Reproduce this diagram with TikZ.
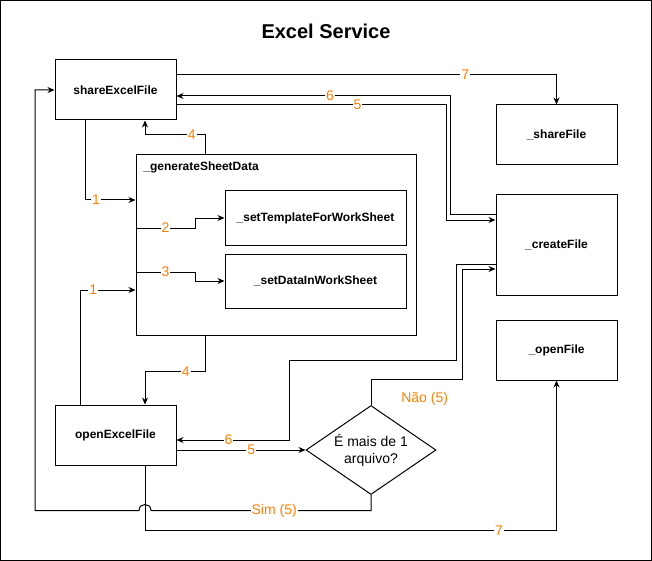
\documentclass[tikz,border=0pt]{standalone}
\usepackage{fontspec}
\setmainfont{Liberation Sans}
\usetikzlibrary{shapes.geometric,calc,positioning,arrows.meta}
\definecolor{steporange}{HTML}{FF8000}

\begin{document}
\begin{tikzpicture}[x=1pt,y=-1pt,line width=1pt,>={Stealth[length=7pt,width=6pt]},
box/.style = {draw, rectangle, inner sep=0pt, font=\fontsize{12}{14}\selectfont\bfseries},
num/.style = {fill=white, inner sep=1pt, text=steporange, font=\fontsize{14}{16}\selectfont},
decision/.style = {draw, diamond, aspect=1.46, inner sep=0pt, align=center, font=\fontsize{14}{17}\selectfont},]
\useasboundingbox (0,0) rectangle (652,561);
\draw (0.5,0.5) rectangle (651.5,560.5);
\node (title) at (326,31)[font=\fontsize{20}{24}\selectfont\bfseries] {Excel Service};
%Boxes
\node (share) at (115.5,90)[box,minimum width=121pt,minimum height=60pt] {shareExcelFile};
\node (shareF) at (556.5,135)[box,minimum width=121pt,minimum height=60pt] {\_shareFile};
\node (gen) at (276,245)[box,minimum width=280pt,minimum height=180pt] {};
\node (genlbl) at ($(gen.north west)+(4,13)$)[anchor=west,font=\fontsize{12}{14}\selectfont\bfseries] {\_generateSheetData};
\node (tmpl) at (315.5,218)[box,minimum width=181pt,minimum height=54pt] {\_setTemplateForWorkSheet};
\node (data) at (315.5,281)[box,minimum width=181pt,minimum height=54pt] {\_setDataInWorkSheet};
\node (create) at (556.5,245)[box,minimum width=121pt,minimum height=100pt] {\_createFile};
\node (openF) at (556.5,350)[box,minimum width=121pt,minimum height=60pt] {\_openFile};
\node (openX) at (115.5,435)[box,minimum width=121pt,minimum height=60pt] {openExcelFile};
\node (dec) at (371,450)[decision,minimum width=130pt,minimum height=89pt] {É mais de 1\\arquivo?};
%Connectors around _generateSheetData
\draw[->] ($(share.south)+(-30.5,0)$) |- node[num,pos=0.61] {1} ($(gen.west)+(0,-45)$);
\draw[->] ($(gen.west)+(0,-17)$) -- node[num] {2} ++(60,0) |- (tmpl.west);
\draw[->] ($(gen.west)+(0,27)$) -- node[num] {3} ++(60,0) |- (data.west);
\draw[->] ($(openX.north)+(-35.5,0)$) |- node[num,pos=0.62] {1} ($(gen.west)+(0,45)$);
\draw[->] ($(gen.north)+(-71,0)$) -- ++(0,-20) -| node[num,pos=0.11] {4} ($(share.south)+(29.5,0)$);
\draw[->] ($(gen.south)+(-71,0)$) -- ++(0,36) -| node[num,pos=0.16] {4} ($(openX.north)+(29.5,0)$);
%Connectors to the right column
\draw[->] ($(share.east)+(0,15)$) -- node[num,pos=0.67] {5} ++(270,0) |- ($(create.west)+(0,-25)$);
\draw[->] ($(create.west)+(0,-31)$) -- ++(-45,0) |- node[num,pos=0.72] {6} ($(share.east)+(0,6)$);
\draw[->] ($(share.east)+(0,-15)$) -| node[num,pos=0.38] {7} (shareF.north);
\draw[->] ($(create.west)+(0,19)$) -- ++(-39,0) -- ++(0,96) -- ++(-167,0) |- node[num,pos=0.77] {6} ($(openX.east)+(0,5)$);
\draw[->] ($(openX.east)+(0,15)$) -- node[num,pos=0.58] {5} (dec.west);
\draw[->] (dec.north) -- ++(0,-25.5) -- node[pos=0.59,below=9pt,text=steporange,font=\fontsize{14}{16}\selectfont] {Não (5)} ++(91,0) |- ($(create.west)+(0,24)$);
%Sim branch with line hop
\coordinate (hopR) at ($(openX.south)+(35.5,45)$);
\coordinate (hopL) at ($(openX.south)+(23.5,45)$);
\draw[->] (dec.south) |- node[num,pos=0.72] {Sim (5)} (hopR) .. controls ($(hopR)+(0,-8)$) and ($(hopL)+(0,-8)$) .. (hopL) -- ++(-104,0) |- (share.west);
\draw[->] ($(openX.south)+(29.5,0)$) -- ++(0,65) -| node[num,pos=0.43] {7} (openF.south);
\end{tikzpicture}
\end{document}
